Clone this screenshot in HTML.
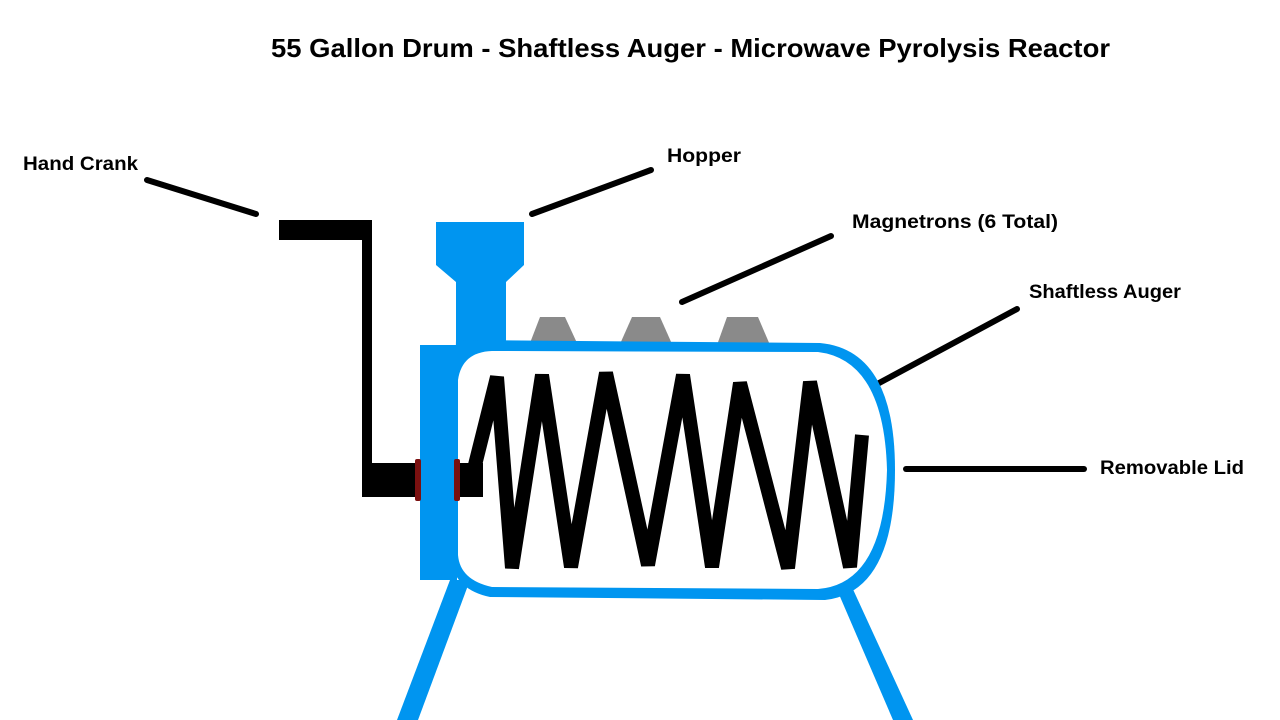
<!DOCTYPE html>
<html><head><meta charset="utf-8"><style>html,body{margin:0;padding:0;background:#fff}svg{display:block}</style></head>
<body>
<svg width="1280" height="720" viewBox="0 0 1280 720" xmlns="http://www.w3.org/2000/svg" font-family="'Liberation Sans', sans-serif" font-weight="bold">
<rect width="1280" height="720" fill="#fff"/>
<text x="271" y="57" font-size="26" textLength="839" lengthAdjust="spacingAndGlyphs">55 Gallon Drum - Shaftless Auger - Microwave Pyrolysis Reactor</text>
<text x="23" y="170" font-size="19" textLength="115" lengthAdjust="spacingAndGlyphs">Hand Crank</text>
<text x="667" y="162" font-size="19" textLength="74" lengthAdjust="spacingAndGlyphs">Hopper</text>
<text x="852" y="228" font-size="19" textLength="206" lengthAdjust="spacingAndGlyphs">Magnetrons (6 Total)</text>
<text x="1029" y="298" font-size="19" textLength="152" lengthAdjust="spacingAndGlyphs">Shaftless Auger</text>
<text x="1100" y="474" font-size="19" textLength="144" lengthAdjust="spacingAndGlyphs">Removable Lid</text>
<g stroke="#000" stroke-width="6" stroke-linecap="round">
<line x1="147" y1="180" x2="256" y2="214"/>
<line x1="532" y1="214" x2="651" y2="170"/>
<line x1="682" y1="302" x2="831" y2="236"/>
<line x1="840" y1="404" x2="1017" y2="309"/>
<line x1="906" y1="469" x2="1084" y2="469"/>
</g>
<polygon points="450,580 470,580 418,720 397,720" fill="#0095f0"/>
<polygon points="835,585 851,585 913,720 893,720" fill="#0095f0"/>
<g fill="#8a8a8a">
<polygon points="540,317 565,317 577,343 530,343"/>
<polygon points="632,317 660,317 672,344 620,344"/>
<polygon points="727,317 758,317 770,345 717,345"/>
</g>
<polygon points="436,222 524,222 524,265 506,282 506,350 456,350 456,282 436,265" fill="#0095f0"/>
<path d="M456,340 L820,343 Q895,350 895,470 Q895,592 825,600 L490,597 Q456,590 450,560 Z" fill="#0095f0"/>
<path d="M492,351 L818,352 Q884,360 887,470 Q884,584 818,589 L492,587 Q460,580 458,555 L458,380 Q462,352 492,351 Z" fill="#fff"/>
<rect x="420" y="345" width="37" height="235" fill="#0095f0"/>
<g fill="#000">
<rect x="279" y="220" width="93" height="20"/>
<rect x="362" y="220" width="10" height="277"/>
<rect x="362" y="463" width="58" height="34"/>
<rect x="456" y="463" width="27" height="34"/>
</g>
<rect x="415" y="459" width="6" height="42" rx="2" fill="#7a1010"/>
<rect x="454" y="459" width="6" height="42" rx="2" fill="#7a1010"/>
<polyline points="475,465 497,377 512,568 542,375 571,567 606,373 648,565 683,375 712,567 740,383 788,568 810,382 850,567 862,435" fill="none" stroke="#000" stroke-width="14" stroke-linejoin="bevel"/>
</svg>
</body></html>
